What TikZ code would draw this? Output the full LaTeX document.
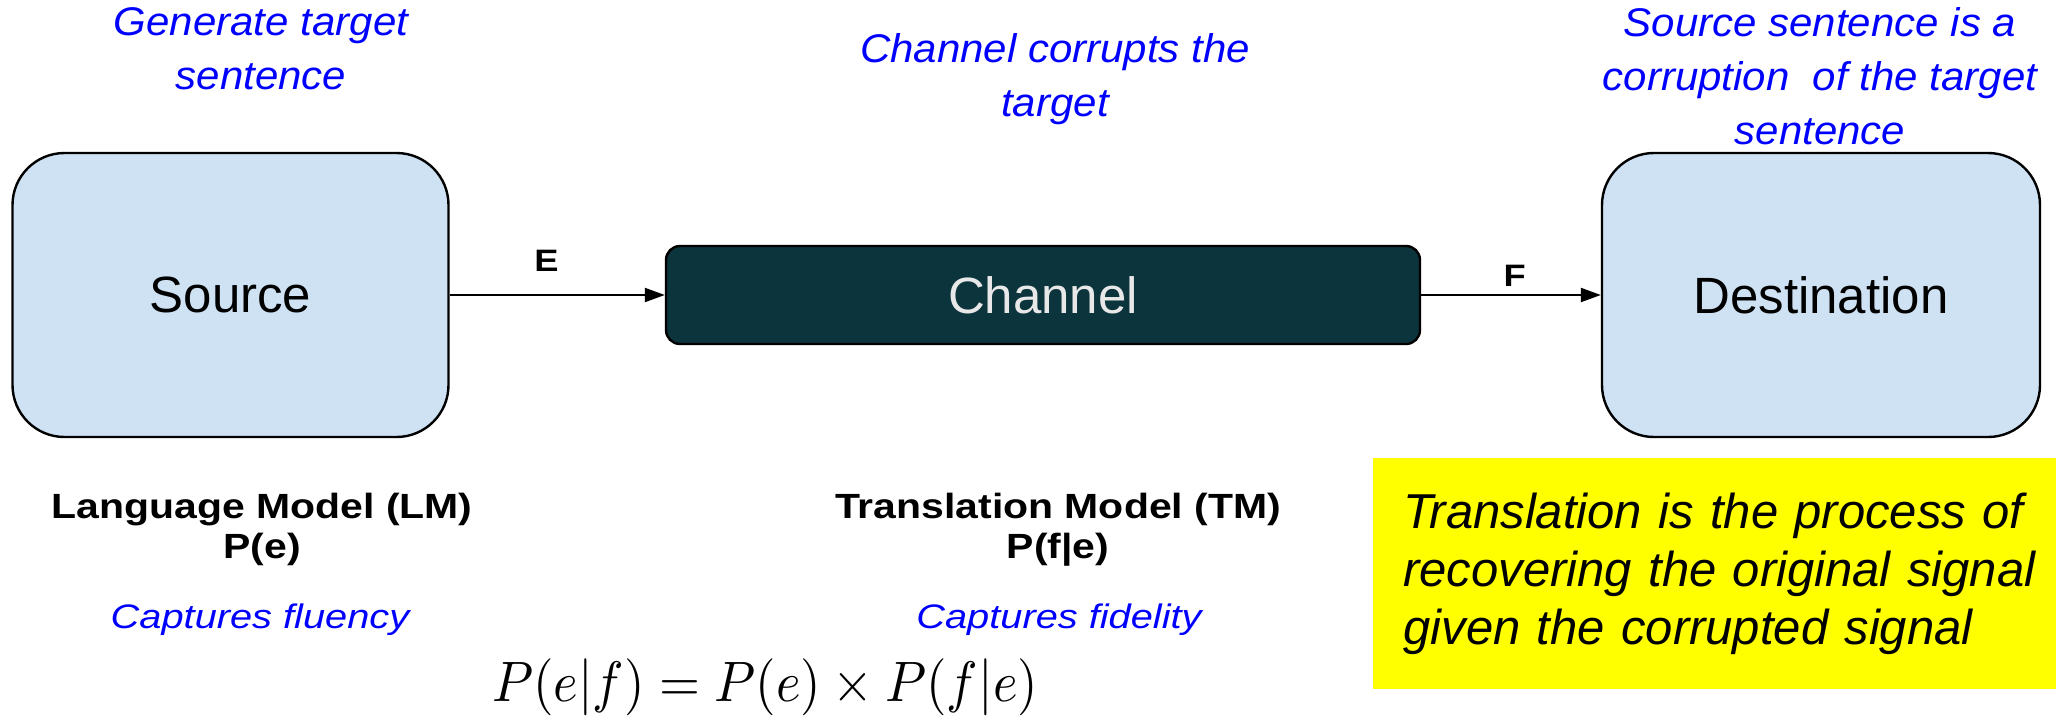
\documentclass[tikz,border=0pt]{standalone}
\usepackage{fontspec}
\setmainfont{Liberation Sans}
\newfontfamily\notefont[FakeStretch=1.05]{Liberation Sans}
\newfontfamily\modelfont[FakeStretch=1.17]{Liberation Sans}
\usetikzlibrary{arrows.meta}

\definecolor{boxblue}{HTML}{CFE2F3}
\definecolor{chanteal}{HTML}{0C343D}
\definecolor{chantext}{HTML}{E8E8E8}
\definecolor{noteblue}{RGB}{0,0,255}
\definecolor{hiyellow}{RGB}{255,255,0}

\tikzset{
  endbox/.style={draw=black, line width=1.2pt, fill=boxblue, rounded corners=26pt,
    minimum width=218pt, minimum height=142pt, inner sep=0pt,
    font=\fontsize{25.5}{30}\selectfont},
  chanbox/.style={draw=black, line width=1.2pt, fill=chanteal, rounded corners=7pt,
    minimum width=377pt, minimum height=49pt, inner sep=0pt, text=chantext,
    font=\fontsize{25.5}{30}\selectfont},
  conn/.style={line width=1.1pt, -{Triangle[length=10pt,width=7pt]}},
  arrowlbl/.style={inner sep=0pt, font=\modelfont\bfseries\fontsize{15.5}{18}\selectfont},
  remark/.style={inner sep=0pt, align=center, text=noteblue,
    font=\notefont\itshape\fontsize{20}{27}\selectfont},
  modellbl/.style={inner sep=0pt, align=center,
    font=\modelfont\bfseries\fontsize{17.5}{20}\selectfont},
  captures/.style={inner sep=0pt, text=noteblue,
    font=\modelfont\itshape\fontsize{17}{20}\selectfont},
  summary/.style={fill=hiyellow, inner xsep=15pt, inner ysep=0pt, align=left,
    text width=325pt, minimum height=115.5pt,
    font=\itshape\fontsize{24.5}{29}\selectfont}
}

\begin{document}
\begin{tikzpicture}[x=0.5pt, y=-0.5pt]
  \useasboundingbox (0,0) rectangle (2056,718);

  % the three stages of the noisy channel
  \node[endbox]  (src)  at (230.5,295) {Source};
  \node[chanbox] (chan) at (1043,295)  {Channel};
  \node[endbox, minimum width=219pt] (dst) at (1821,295) {Destination};

  \draw[conn] (src) -- node[arrowlbl, above=11pt, pos=0.45] {E} (chan);
  \draw[conn] (chan) -- node[arrowlbl, above=3.5pt, pos=0.52] {F} (dst);

  % remarks above each stage
  \node[remark, anchor=north] (rgen)  at (261,7)    {Generate target\\sentence};
  \node[remark, anchor=north] (rchan) at (1055,33)  {Channel corrupts the\\target};
  \node[remark, anchor=north] (rdst)  at (1820,7)   {Source sentence is a\\corruption\ \ of the target\\sentence};

  % the two models
  \node[modellbl, anchor=north] (lm) at (262,493)  {Language Model (LM)\\P(e)};
  \node[modellbl, anchor=north] (tm) at (1058,493) {Translation Model (TM)\\P(f|e)};
  \node[captures, anchor=base] (flu) at (260,628)  {Captures fluency};
  \node[captures, anchor=base] (fid) at (1059,628) {Captures fidelity};

  % decomposition
  \node[inner sep=0pt, anchor=base] (bayes) at (765,701)
    {\scalebox{2.63}[2.85]{$P(e|f) = P(e) \times P(f|e)$}};

  % summary note, running off the right edge
  \node[summary, anchor=north west] (sum) at (1373,457.5)
    {Translation is the process of\\recovering the original signal\\given the corrupted signal};
\end{tikzpicture}
\end{document}
